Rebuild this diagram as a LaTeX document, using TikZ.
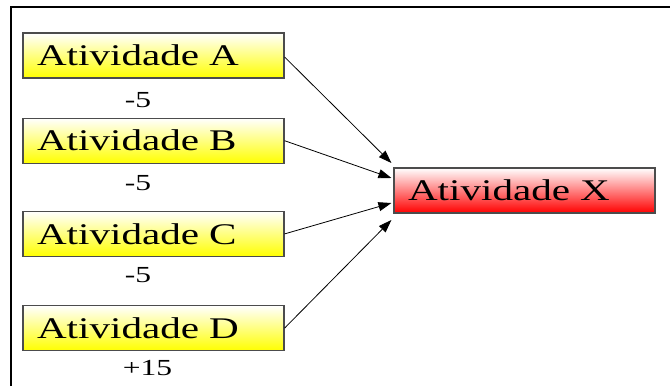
\documentclass[tikz,border=0pt]{standalone}
\usepackage{fontspec}
\usepackage{tikz}
\usetikzlibrary{arrows.meta, shapes, positioning, calc}

\newfontfamily\boxfont[FakeStretch=1.37]{Liberation Serif}

\begin{document}
\begin{tikzpicture}
            [->, >={Triangle[length=13pt,width=9pt]}, x=1pt, y=-1pt, line width=0.8pt,
            atividade/.style={rectangle, draw=black!70, line width=1.2pt,
              minimum width=261pt, minimum height=45pt, inner xsep=14pt,
              text width=233pt, align=left,
              font=\boxfont\fontsize{30}{30}\selectfont},
            entrada/.style={atividade, top color=white, middle color=yellow!75, bottom color=yellow},
            saida/.style={atividade, top color=white, middle color=red!45, bottom color=red},
            valor/.style={inner sep=0pt, anchor=west, font=\boxfont\fontsize{23}{23}\selectfont}]

            \useasboundingbox (0,0) rectangle (670,386);
            \draw[-, line width=2pt] (11,386) -- (11,7) -- (670,7);

            \node[entrada] (a) at (153.5,55.5) {Atividade A};
            \node[entrada] (b) [below = 39pt of a] {Atividade B};
            \node[entrada] (c) [below = 47pt of b] {Atividade C};
            \node[entrada] (d) [below = 48pt of c] {Atividade D};
            \node[saida] (x) at (524.5,190.5) {Atividade X};

            \node[valor] (va) at ([xshift=102pt,yshift=-21pt]a.south west) {-5};
            \node[valor] (vb) at ([xshift=102pt,yshift=-19pt]b.south west) {-5};
            \node[valor] (vc) at ([xshift=102pt,yshift=-18pt]c.south west) {-5};
            \node[valor] (vd) at ([xshift=100pt,yshift=-17pt]d.south west) {+15};

            \draw ([yshift=-1.5pt]a.east) -- ([xshift=-2pt,yshift=27.5pt]x.west);
            \draw (b.east) -- ([xshift=-2pt,yshift=12.5pt]x.west);
            \draw (c.east) -- ([xshift=-2pt,yshift=-12.5pt]x.west);
            \draw (d.east) -- ([xshift=-2pt,yshift=-29.5pt]x.west);

\end{tikzpicture}
\end{document}
